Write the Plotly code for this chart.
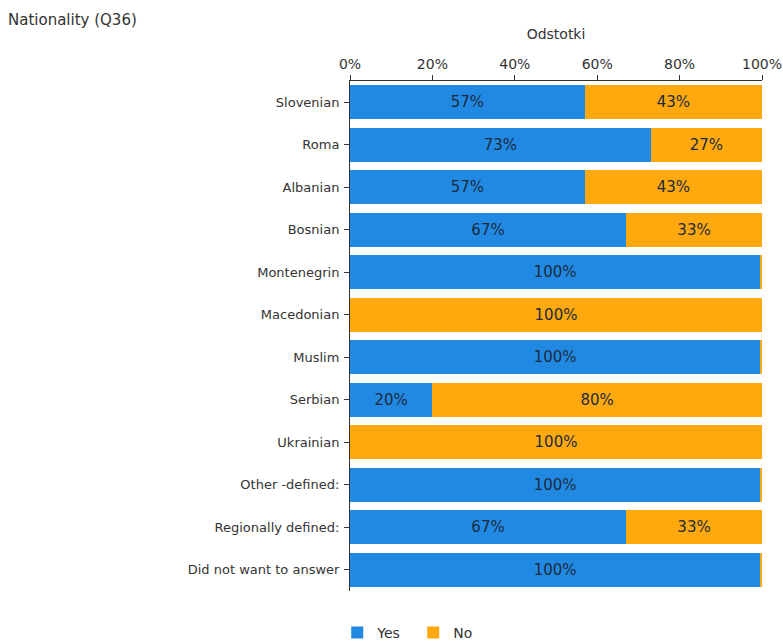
import plotly.graph_objects as go

categories = ['Slovenian', 'Roma', 'Albanian', 'Bosnian', 'Montenegrin', 'Macedonian',
              'Muslim', 'Serbian', 'Ukrainian', 'Other -defined:', 'Regionally defined:',
              'Did not want to answer']
yes_vals = [57, 73, 57, 67, 99.6, 0, 99.6, 20, 0, 99.6, 67, 99.6]
no_vals = [43, 27, 43, 33, 0.4, 100, 0.4, 80, 100, 0.4, 33, 0.4]
yes_text = ['57%', '73%', '57%', '67%', '100%', '', '100%', '20%', '', '100%', '67%', '100%']
no_text = ['43%', '27%', '43%', '33%', '', '100%', '', '80%', '100%', '', '33%', '']
tick_vals = [0, 20, 40, 60, 80, 100]
tick_text = ['0%', '20%', '40%', '60%', '80%', '100%']

fig = go.Figure()
fig.add_trace(go.Bar(y=categories, x=yes_vals, orientation='h', name='Yes',
                     marker=dict(color='#2289e3', line=dict(width=0)),
                     text=yes_text, textposition='inside', insidetextanchor='middle',
                     textfont=dict(color='#1c2b3c', size=15), hoverinfo='skip'))
fig.add_trace(go.Bar(y=categories, x=no_vals, orientation='h', name='No',
                     marker=dict(color='#ffa90e', line=dict(width=0)),
                     text=no_text, textposition='inside', insidetextanchor='middle',
                     textfont=dict(color='#1c2b3c', size=15), hoverinfo='skip'))

fig.update_layout(
    barmode='stack', bargap=0.2,
    width=783, height=643,
    margin=dict(l=350, r=21, t=81, b=52, autoexpand=False),
    paper_bgcolor='white', plot_bgcolor='white',
    font=dict(family='DejaVu Sans', size=13, color='#333333'),
    uniformtext=dict(minsize=8, mode='show'),
    title=dict(text='Nationality (Q36)', x=8 / 783, xanchor='left', y=0.969, yanchor='middle',
               font=dict(size=15, color='#333333')),
    legend=dict(orientation='h', x=-0.031, xanchor='left', y=-0.082, yanchor='middle',
                font=dict(size=14, color='#333333'), traceorder='normal',
                itemwidth=30, entrywidth=31),
    showlegend=True,
)
fig.update_xaxes(side='top', range=[0, 100], tickvals=tick_vals, ticktext=tick_text,
                 showgrid=False, showline=True, linecolor='#333333', linewidth=1,
                 ticks='outside', ticklen=5, tickcolor='#333333', zeroline=False,
                 automargin=False, tickfont=dict(size=14),
                 title=dict(text='Odstotki', standoff=13, font=dict(size=14)))
fig.update_yaxes(autorange='reversed', showgrid=False, showline=True, linecolor='#333333',
                 linewidth=1, ticks='outside', ticklen=5, tickcolor='#333333',
                 automargin=False, ticklabelstandoff=2, tickfont=dict(size=13))

# drop the default body margin so the figure fills the window exactly
fig.write_html('out.html', config={'displayModeBar': False},
               post_script="document.body.style.margin='0';document.body.style.overflow='hidden';")
